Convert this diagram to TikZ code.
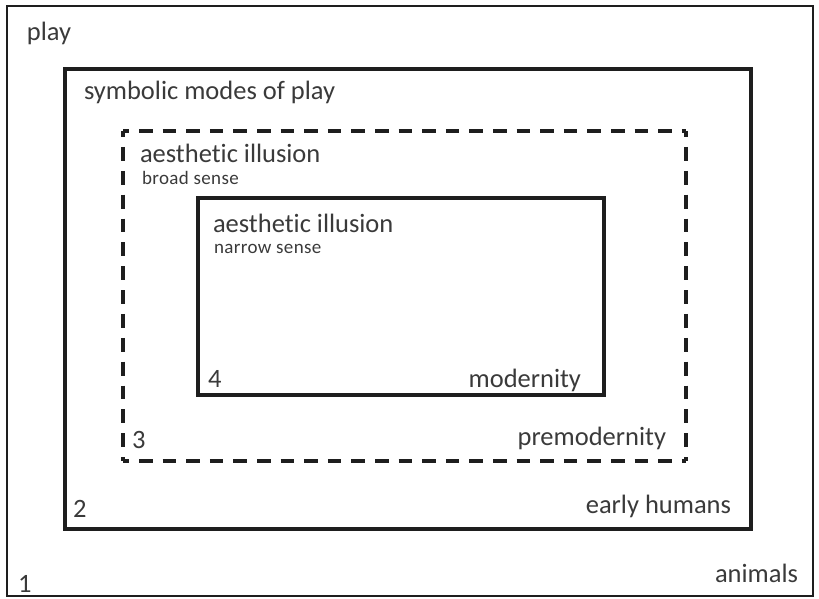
\documentclass[tikz,border=0pt]{standalone}
\usepackage{fontspec}
\setmainfont[Ligatures={NoCommon,NoContextual}]{Carlito}
\definecolor{txt}{HTML}{3A3A3A}
\definecolor{ln}{HTML}{1E1E1E}
\begin{document}
\begin{tikzpicture}[x=1pt,y=-1pt,
  lbl/.style={anchor=base west,inner sep=0pt,outer sep=0pt,text=txt,font=\fontsize{26.5}{30}\selectfont},
  sml/.style={anchor=base west,inner sep=0pt,outer sep=0pt,text=txt,font=\fontsize{19}{21}\selectfont\addfontfeature{LetterSpace=2}},
  lblr/.style={lbl,anchor=base east},
  boxline/.style={draw=ln,line width=#1,line join=miter},
  dside/.style={draw=ln,line width=4,line cap=butt,dash pattern=on #1 off 10,dash phase=#1-6}]
\useasboundingbox (0,0) rectangle (819,599);
% box corners
\coordinate (o1) at (7,6);   \coordinate (o2) at (813,596);
\coordinate (s1) at (65,69); \coordinate (s2) at (751,529);
\coordinate (d1) at (123,131); \coordinate (d2) at (686,461);
\coordinate (d3) at (686,131); \coordinate (d4) at (123,461);
\coordinate (n1) at (198,198); \coordinate (n2) at (604,395);
% boxes
\draw[boxline=2.8] (o1) rectangle (o2);
\draw[boxline=4] (s1) rectangle (s2);
\draw[boxline=4] (n1) rectangle (n2);
\draw[dside=13.6] (d1) -- (d3);
\draw[dside=13.6] (d4) -- (d2);
\draw[dside=13.85] (d1) -- (d4);
\draw[dside=13.85] (d3) -- (d2);
% labels
\node[lbl] (play) at (27,41) {play};
\node[lbl] (sym) at (84,100) {symbolic modes of play};
\node[lbl] (ai3) at (140,162) {aesthetic illusion};
\node[sml] (bs) at (142,184) {broad sense};
\node[lbl] (ai4) at (213,232) {aesthetic illusion};
\node[sml] (ns) at (214,253) {narrow sense};
\node[lbl] (n4) at (208,387) {4};
\node[lblr] (mod) at (581,387) {modernity};
\node[lbl] (n3) at (132,448) {3};
\node[lblr] (pre) at (666,445) {premodernity};
\node[lbl] (n2l) at (73,517) {2};
\node[lblr] (eh) at (731,513) {early humans};
\node[lbl] (n1l) at (18,592) {1};
\node[lblr] (an) at (798,582) {animals};
\end{tikzpicture}
\end{document}
